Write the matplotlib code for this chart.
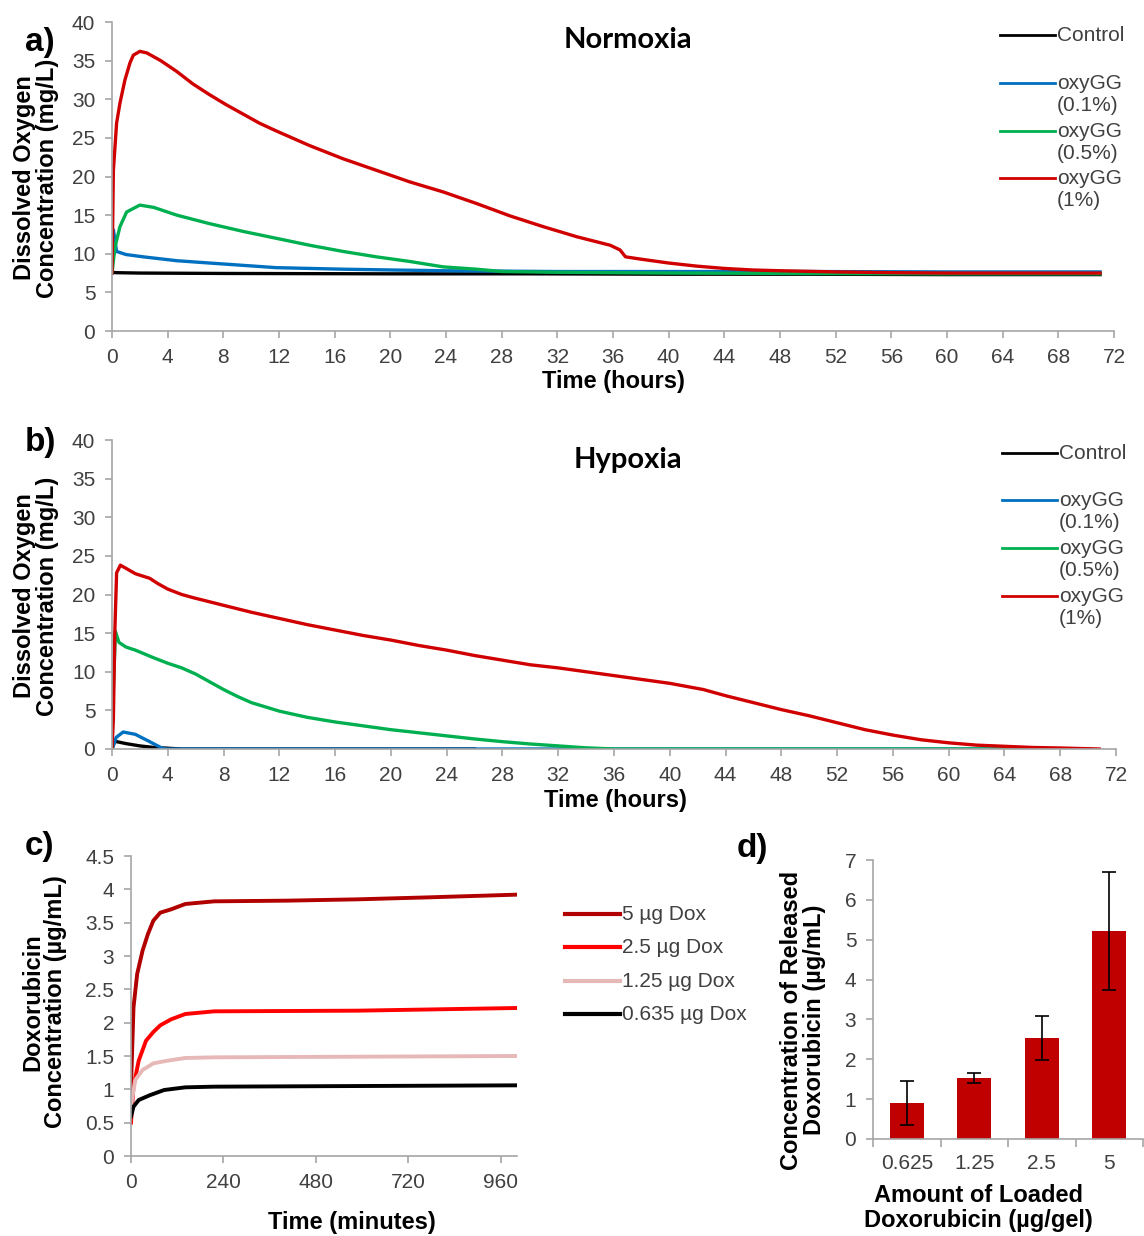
import numpy as np
import matplotlib.pyplot as plt
from matplotlib.lines import Line2D

# ---- panel a: normoxia, dissolved O2 (mg/L) vs hours ----
norm_ctrl_t = [0, 0.3, 2, 8, 20, 30, 40, 50, 60, 71]
norm_ctrl = [7.6, 7.55, 7.5, 7.45, 7.4, 7.4, 7.35, 7.35, 7.3, 7.3]

norm_01_t = [0, 0.1, 0.33, 1, 2.25, 4.65, 7, 11.8, 16.6, 20, 24, 28, 32, 40, 50, 60, 71]
norm_01 = [7.5, 13.1, 10.3, 9.9, 9.6, 9.1, 8.8, 8.2, 8.0, 7.9, 7.8, 7.75, 7.7, 7.7, 7.7, 7.65, 7.65]

norm_05_t = [0, 0.22, 0.57, 1.05, 2.0, 3.0, 4.65, 7.0, 9.4, 11.8, 14.2, 16.6, 19.0, 21.4,
             23.8, 26.2, 28, 32, 40, 50, 60, 71]
norm_05 = [7.5, 10.9, 13.5, 15.4, 16.3, 16.0, 15.0, 13.9, 12.9, 12.0, 11.1, 10.3, 9.6, 9.0,
           8.3, 8.0, 7.7, 7.6, 7.5, 7.45, 7.4, 7.4]

norm_1_t = [0, 0.1, 0.33, 0.57, 0.93, 1.29, 1.53, 2.0, 2.5, 3.5, 4.65, 5.8, 7.0, 8.2, 9.4,
            10.6, 11.8, 14.2, 16.6, 19.0, 21.4, 23.8, 26.2, 28.6, 31.0, 33.4, 35.8, 36.5,
            36.9, 38, 40, 42, 44, 46, 48, 52, 56, 60, 71]
norm_1 = [7.5, 20.8, 26.9, 29.5, 32.5, 34.7, 35.7, 36.2, 36.0, 35.0, 33.6, 32.0, 30.6, 29.3,
          28.1, 26.9, 25.9, 24.0, 22.3, 20.8, 19.3, 18.0, 16.5, 14.9, 13.5, 12.2, 11.1,
          10.5, 9.6, 9.3, 8.8, 8.4, 8.1, 7.9, 7.8, 7.65, 7.55, 7.5, 7.5]

# ---- panel b: hypoxia ----
hyp_ctrl_t = [0, 0.2, 1, 2, 3, 4, 5, 26]
hyp_ctrl = [0, 1.0, 0.7, 0.4, 0.2, 0.1, 0, 0]

hyp_01_t = [0, 0.3, 0.8, 1.67, 2.7, 3.6, 3.9, 70]
hyp_01 = [0, 1.5, 2.2, 1.9, 0.95, 0.1, 0, 0]

hyp_05_t = [0, 0.1, 0.25, 0.5, 1, 1.67, 3, 4, 5, 6, 7, 8, 9, 10, 12, 14, 16, 18, 20,
            22, 24, 26, 28, 30, 32, 34, 36, 69]
hyp_05 = [0, 8, 15.2, 13.8, 13.2, 12.8, 11.8, 11.1, 10.5, 9.7, 8.7, 7.7, 6.8, 6.0, 4.9,
          4.1, 3.5, 3.0, 2.5, 2.1, 1.7, 1.3, 0.95, 0.65, 0.4, 0.15, 0, 0]

hyp_1_t = [0, 0.1, 0.2, 0.33, 0.6, 1.67, 2, 2.7, 3.3, 4, 5, 5.8, 8, 10, 12, 14, 16, 18, 20,
           22, 24, 26, 28, 30, 32, 34, 36, 38, 40, 42.4, 44, 46, 48, 50, 52, 54, 56,
           58, 60, 62, 64, 66, 68, 70.8]
hyp_1 = [0, 4, 15, 22.8, 23.8, 22.7, 22.5, 22.1, 21.4, 20.7, 20.0, 19.6, 18.6, 17.7, 16.9,
         16.1, 15.4, 14.7, 14.1, 13.4, 12.8, 12.1, 11.5, 10.9, 10.5, 10.0, 9.5, 9.0, 8.5,
         7.7, 6.9, 6.0, 5.1, 4.3, 3.4, 2.5, 1.8, 1.2, 0.8, 0.5, 0.35, 0.2, 0.13, 0]

# ---- panel c: doxorubicin release (ug/mL) vs minutes ----
dox_5_t = [0, 6.5, 16, 30, 44, 58, 76, 104, 141, 216, 402, 588, 774, 1000]
dox_5 = [1.04, 2.23, 2.73, 3.08, 3.33, 3.53, 3.65, 3.70, 3.78, 3.82, 3.83, 3.85, 3.88, 3.92]
dox_25_t = [0, 6.5, 20, 39, 58, 76, 104, 141, 216, 588, 1000]
dox_25 = [0.5, 1.04, 1.43, 1.73, 1.86, 1.96, 2.05, 2.13, 2.17, 2.18, 2.22]
dox_125_t = [0, 11, 30, 58, 95, 141, 216, 1000]
dox_125 = [0.75, 1.14, 1.29, 1.39, 1.43, 1.47, 1.48, 1.50]
dox_0635_t = [0, 6.5, 20, 48, 86, 141, 216, 1000]
dox_0635 = [0.59, 0.74, 0.84, 0.91, 0.99, 1.03, 1.04, 1.06]

# ---- panel d: released vs loaded ----
loaded = ['0.625', '1.25', '2.5', '5']
released = [0.9, 1.53, 2.53, 5.22]
released_err = [0.55, 0.12, 0.55, 1.48]

o2_labels = ['Control', 'oxyGG\n(0.1%)', 'oxyGG\n(0.5%)', 'oxyGG\n(1%)']
o2_colors = ['#000000', '#0070C0', '#00B050', '#D00000']
dox_labels = ['5 µg Dox', '2.5 µg Dox', '1.25 µg Dox', '0.635 µg Dox']
dox_colors = ['#B00000', '#FF0000', '#E6B9B8', '#000000']

W, H = 1144, 1236
plt.rcParams['font.family'] = ['Liberation Sans', 'DejaVu Sans']
fig = plt.figure(figsize=(W / 100, H / 100), dpi=100)

GRAY = '#A6A6A6'
TXT = '#404040'
LBL = 17


def box(l, t, r, b):
    return [l / W, 1 - b / H, (r - l) / W, (b - t) / H]


def ftext(x, y, s, **kw):
    fig.text(x / W, 1 - y / H, s, ha=kw.pop('ha', 'center'), va=kw.pop('va', 'center'), **kw)


def style(ax):
    for s in ['top', 'right']:
        ax.spines[s].set_visible(False)
    for s in ['left', 'bottom']:
        ax.spines[s].set_color(GRAY)
        ax.spines[s].set_linewidth(1.2)
    ax.tick_params(which='both', direction='out', length=5, width=1.2, color=GRAY,
                   labelcolor=TXT, labelsize=15, pad=7)


def legend(x0, ys, labels, colors, lw, size):
    for y, lab, c in zip(ys, labels, colors):
        fig.add_artist(Line2D([x0 / W, (x0 + 55) / W], [1 - y / H, 1 - y / H], color=c, lw=lw))
        ftext(x0 + 57, y - 9, lab, ha='left', va='top', fontsize=size, color=TXT,
              linespacing=1.2)


# panel a
axa = fig.add_axes(box(112, 22, 1114, 331))
for t, v, c in zip([norm_ctrl_t, norm_01_t, norm_05_t, norm_1_t],
                   [norm_ctrl, norm_01, norm_05, norm_1], o2_colors):
    axa.plot(t, v, color=c, lw=2.4)
axa.set_xlim(0, 72)
axa.set_ylim(0, 40)
axa.set_xticks(np.arange(0, 73, 4))
axa.set_yticks(np.arange(0, 41, 5))
style(axa)

# panel b
axb = fig.add_axes(box(112, 440, 1116, 749))
for t, v, c in zip([hyp_ctrl_t, hyp_01_t, hyp_05_t, hyp_1_t],
                   [hyp_ctrl, hyp_01, hyp_05, hyp_1], o2_colors):
    axb.plot(t, v, color=c, lw=2.4)
axb.set_xlim(0, 72)
axb.set_ylim(0, 40)
axb.set_xticks(np.arange(0, 73, 4))
axb.set_yticks(np.arange(0, 41, 5))
style(axb)

# panel c
axc = fig.add_axes(box(131, 856, 517, 1156))
for t, v, c in zip([dox_5_t, dox_25_t, dox_125_t, dox_0635_t],
                   [dox_5, dox_25, dox_125, dox_0635], dox_colors):
    axc.plot(t, v, color=c, lw=2.8)
axc.set_xlim(0, 1002)
axc.set_ylim(0, 4.5)
axc.set_xticks([0, 240, 480, 720, 960])
axc.set_yticks(np.arange(0, 4.6, 0.5))
axc.set_yticklabels(['0', '0.5', '1', '1.5', '2', '2.5', '3', '3.5', '4', '4.5'])
style(axc)
axc.tick_params(axis='x', pad=7)

# panel d
axd = fig.add_axes(box(873, 860, 1143, 1139))
xpos = np.arange(len(loaded))
axd.bar(xpos, released, width=0.5, color='#C00000', yerr=released_err,
        error_kw=dict(ecolor='black', elinewidth=1.2, capsize=5, capthick=1.2))
axd.set_xlim(-0.5, 3.5)
axd.set_ylim(0, 7)
axd.set_yticks(range(0, 8))
axd.set_xticks(xpos)
axd.set_xticklabels(loaded)
axd.set_xticks(np.arange(-0.5, 3.6, 1), minor=True)
style(axd)
axd.tick_params(axis='x', which='major', length=0, pad=11)
axd.tick_params(axis='x', which='minor', length=6)

# texts
for x, y, s in [(40, 42, 'a)'), (40, 442, 'b)'), (40, 846, 'c)'), (752, 848, 'd)')]:
    ftext(x, y, s, fontsize=24, fontweight='bold')
ftext(628, 40, 'Normoxia', fontsize=21, fontweight='bold', family='Lato')
ftext(628, 460, 'Hypoxia', fontsize=21, fontweight='bold', family='Lato')

ylab_o2 = 'Dissolved Oxygen\nConcentration (mg/L)'
ftext(36, 178, ylab_o2, rotation=90, fontsize=LBL, fontweight='bold', linespacing=1.0)
ftext(36, 596, ylab_o2, rotation=90, fontsize=LBL, fontweight='bold', linespacing=1.0)
ftext(613, 382, 'Time (hours)', fontsize=LBL, fontweight='bold')
ftext(615, 801, 'Time (hours)', fontsize=LBL, fontweight='bold')
ftext(44, 1002, 'Doxorubicin\nConcentration (µg/mL)', rotation=90, fontsize=LBL,
      fontweight='bold', linespacing=1.0)
ftext(352, 1222, 'Time (minutes)', fontsize=LBL, fontweight='bold')
ftext(803, 1020, 'Concentration of Released\nDoxorubicin (µg/mL)', rotation=90,
      fontsize=LBL, fontweight='bold', linespacing=1.0)
ftext(978, 1208, 'Amount of Loaded\nDoxorubicin (µg/gel)', fontsize=LBL,
      fontweight='bold', linespacing=1.1)

# legends
legend(1000, [35, 83, 131, 178], o2_labels, o2_colors, 2, 15)
legend(1002, [453, 500, 548, 596], o2_labels, o2_colors, 2, 15)
legend(565, [914, 947, 981, 1014], dox_labels, dox_colors, 3, 15)

fig.savefig('out.png', dpi=100)
